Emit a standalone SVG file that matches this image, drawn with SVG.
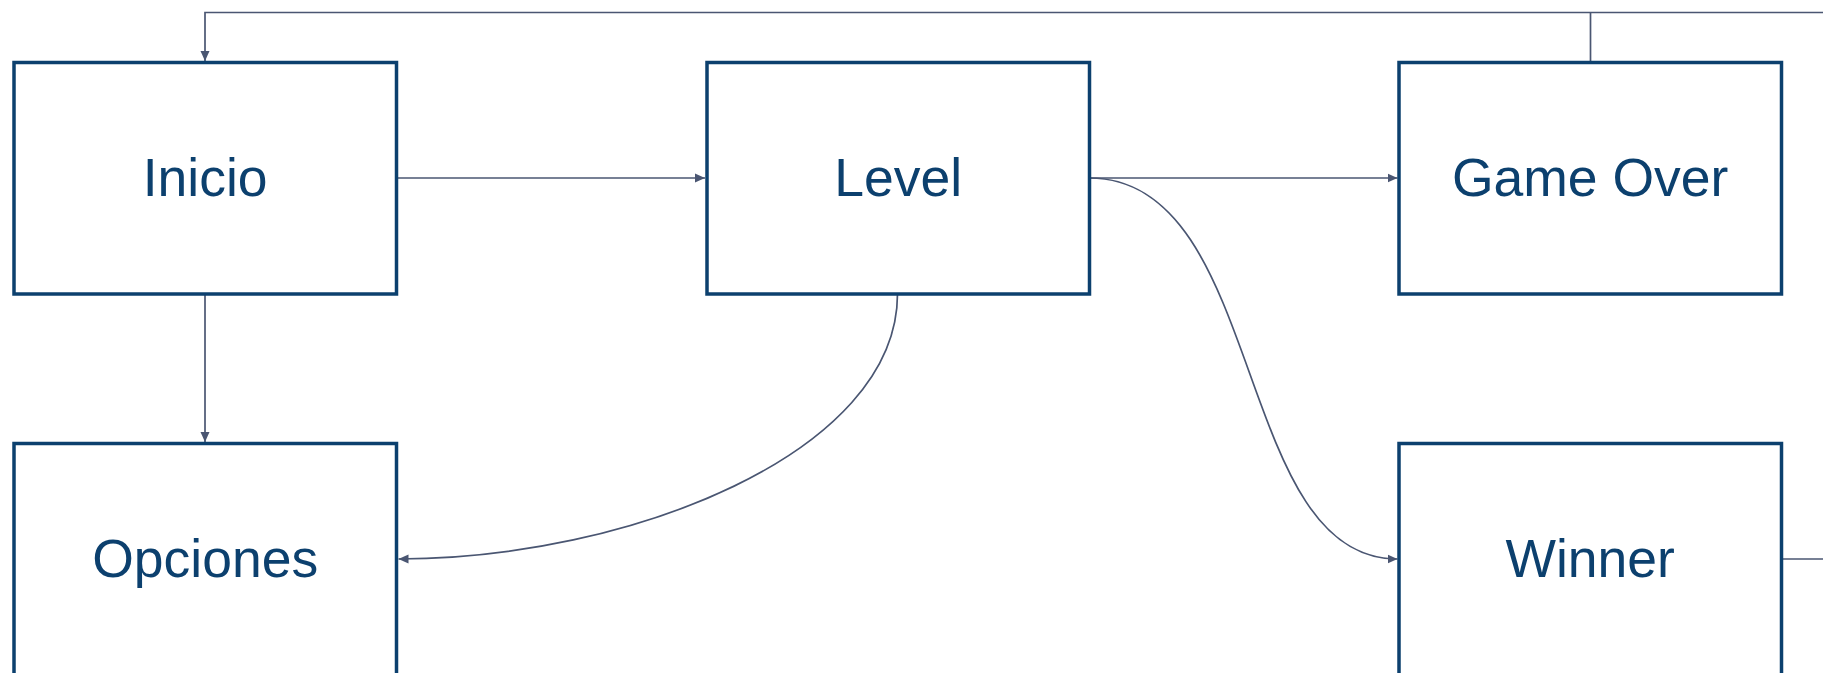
<svg xmlns="http://www.w3.org/2000/svg" width="1823" height="673" viewBox="0 0 1823 673">
<style>
.box{fill:#ffffff;stroke:#0c406e;stroke-width:3.5}
.lbl{font-family:"Liberation Sans",Arial,sans-serif;font-size:53.5px;fill:#0c406e;text-anchor:middle}
.c{fill:none;stroke:#4a5672;stroke-width:1.7}
</style>
<defs>
<marker id="ah" viewBox="0 0 10 10" refX="10" refY="5" markerWidth="10" markerHeight="10" markerUnits="userSpaceOnUse" orient="auto">
<path d="M0,0.5 L10,5 L0,9.5 z" fill="#4a5672"/>
</marker>
</defs>
<rect width="1823" height="673" fill="#ffffff"/>
<g id="connectors">
<path class="c" d="M1823,12.5 L205,12.5 L205,61" marker-end="url(#ah)"/>
<path class="c" d="M1590.5,62.5 L1590.5,12.5"/>
<path class="c" d="M1782,559 L1823,559"/>
<path class="c" d="M396.5,178 L705,178" marker-end="url(#ah)"/>
<path class="c" d="M1089,178 L1397.5,178" marker-end="url(#ah)"/>
<path class="c" d="M1089,178 C1267,178 1232,559 1397.5,559" marker-end="url(#ah)"/>
<path class="c" d="M897.5,294 C897.5,453 628,559 398.5,559" marker-end="url(#ah)"/>
<path class="c" d="M205,294 L205,442" marker-end="url(#ah)"/>
</g>
<g id="inicio">
<rect class="box" x="14" y="62.5" width="382.5" height="231.5"/>
<text class="lbl" x="205.2" y="196">Inicio</text>
</g>
<g id="level">
<rect class="box" x="707" y="62.5" width="382.5" height="231.5"/>
<text class="lbl" x="898.2" y="196">Level</text>
</g>
<g id="gameover">
<rect class="box" x="1399" y="62.5" width="382.5" height="231.5"/>
<text class="lbl" x="1590.2" y="196">Game Over</text>
</g>
<g id="opciones">
<rect class="box" x="14" y="443.5" width="382.5" height="300"/>
<text class="lbl" x="205.2" y="577">Opciones</text>
</g>
<g id="winner">
<rect class="box" x="1399" y="443.5" width="382.5" height="300"/>
<text class="lbl" x="1590.2" y="577">Winner</text>
</g>
</svg>
